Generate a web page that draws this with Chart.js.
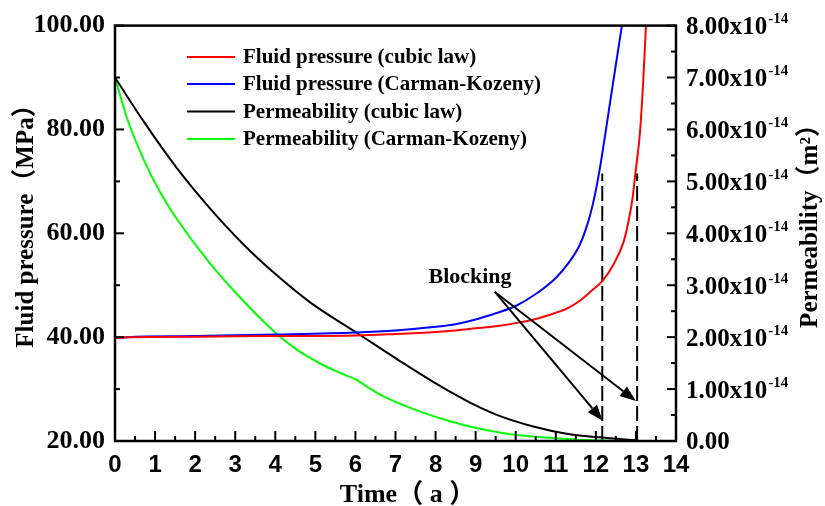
<!DOCTYPE html>
<html><head><meta charset="utf-8">
<script src="https://cdn.jsdelivr.net/npm/chart.js@4/dist/chart.umd.min.js"></script>
<style>html,body{margin:0;padding:0;background:#fff}</style>
</head><body>
<canvas id="c" width="825" height="506"></canvas>
<script>
// ---- data (time in years, pressure in MPa, permeability in 1e-14 m^2) ----
const timeTicks = [0,1,2,3,4,5,6,7,8,9,10,11,12,13,14];
const pressureTicks = [20,40,60,80,100];
const permTicks = [0,1,2,3,4,5,6,7,8];

const tRedP = [0,0.3,2,4,6,7,8,8.5,9,9.5,10,10.5,11,11.3,11.6,11.9,12.16,12.44,12.69,12.82,12.92,12.98,13.1,13.18,13.25];
const redP  = [39.8,40.0,40.1,40.2,40.3,40.6,41.0,41.3,41.7,42.1,42.7,43.5,44.7,45.6,47.0,49.0,50.8,54.0,58.3,62.5,67.0,71.1,79.4,89.0,100];

const tBlueP = [0,0.3,2,4,6,7,8,8.5,9,9.5,10,10.5,11,11.3,11.6,11.8,11.9,12.0,12.1,12.2,12.4,12.65];
const blueP  = [39.8,40.0,40.2,40.5,40.9,41.3,42.0,42.5,43.4,44.6,46.0,48.3,51.4,54.1,57.8,62.0,64.8,68.3,72.5,77.3,87.5,100];

const tBlackK = [0,0.71,1.54,2.37,3.2,4.04,4.87,6.06,7.11,8.11,8.86,9.61,10.44,11.27,12.1,13.03];
const blackK  = [7.0,6.16,5.26,4.48,3.79,3.19,2.67,2.07,1.54,1.06,0.74,0.48,0.28,0.14,0.07,0.01];

const tGreenK = [0,0.29,0.71,1.12,1.54,2.37,3.2,4.04,4.5,4.87,5.3,5.62,6.04,6.3,6.7,7.53,8.36,9.19,10.02,11.27,12.1,13.1];
const greenK  = [7.0,6.24,5.43,4.80,4.28,3.42,2.70,2.06,1.78,1.60,1.42,1.31,1.17,1.04,0.86,0.59,0.38,0.22,0.115,0.04,0.01,0.0];

const seriesLabels = ['Fluid pressure (cubic law)','Fluid pressure (Carman-Kozeny)','Permeability (cubic law)','Permeability (Carman-Kozeny)'];

const blockTimes = [12.16, 13.03];
const blockTop = 71.5;
const blockLabel = 'Blocking';
const blockLabelAt = {t: 8.86, p: 50.5};
const arrowTail = {t: 9.48, p: 48.7};
const arrowTips = [{t: 12.17, p: 23.9}, {t: 13.0, p: 27.7}];

const xTitle = 'Time（ a ）';
const yTitle = 'Fluid pressure（MPa）';
const y2Title = 'Permeability（m²）';

// ---- build ----
const pts = (ts, vs) => ts.map((t,i)=>({x:t, y:vs[i]}));
const SERIF = "'Liberation Serif','Times New Roman','Noto Sans CJK SC',serif";
const SANS = "'Liberation Sans',Arial,sans-serif";

const line = (label, data, color, axis) => ({
  label, data, borderColor: color, backgroundColor: color, borderWidth: 2,
  pointRadius: 0, fill: false, cubicInterpolationMode: 'monotone', yAxisID: axis
});

const datasets = [
  line(seriesLabels[0], pts(tRedP, redP), '#ff0000', 'y'),
  line(seriesLabels[1], pts(tBlueP, blueP), '#0000ff', 'y'),
  line(seriesLabels[2], pts(tBlackK, blackK), '#000000', 'y2'),
  line(seriesLabels[3], pts(tGreenK, greenK), '#00ff00', 'y2'),
  ...blockTimes.map(t => ({label:'', data:[{x:t,y:20},{x:t,y:blockTop}], borderColor:'#000', borderWidth:2,
      borderDash:[15,5], pointRadius:0, yAxisID:'y', isGuide:true}))
];

const decor = {
  id: 'decor',
  afterDatasetsDraw(chart) {
    const {ctx, chartArea: a, scales: {x, y, y2}} = chart;
    const seg = (x1,y1,x2,y2_) => { ctx.beginPath(); ctx.moveTo(x1,y1); ctx.lineTo(x2,y2_); ctx.stroke(); };
    ctx.save();
    ctx.strokeStyle = '#000'; ctx.fillStyle = '#000';

    // arrows
    ctx.lineWidth = 2;
    const tx = x.getPixelForValue(arrowTail.t), ty = y.getPixelForValue(arrowTail.p);
    arrowTips.forEach(tp => {
      const hx = x.getPixelForValue(tp.t), hy = y.getPixelForValue(tp.p);
      const ang = Math.atan2(hy-ty, hx-tx), L = 16, W = 6;
      const bx = hx - L*Math.cos(ang), by = hy - L*Math.sin(ang);
      seg(tx, ty, bx, by);
      ctx.beginPath();
      ctx.moveTo(hx, hy);
      ctx.lineTo(bx + W*Math.sin(ang), by - W*Math.cos(ang));
      ctx.lineTo(bx - W*Math.sin(ang), by + W*Math.cos(ang));
      ctx.closePath(); ctx.fill();
    });
    ctx.font = `bold 22px ${SERIF}`;
    ctx.textAlign = 'center'; ctx.textBaseline = 'alphabetic';
    ctx.fillText(blockLabel, x.getPixelForValue(blockLabelAt.t), y.getPixelForValue(blockLabelAt.p));

    // frame
    ctx.lineWidth = 2.5;
    ctx.strokeRect(a.left, a.top, a.right - a.left, a.bottom - a.top);
    ctx.lineWidth = 2;
    for (let t = 0; t <= 14; t += 0.5) {
      const px = x.getPixelForValue(t);
      seg(px, a.bottom, px, a.bottom - (Number.isInteger(t) ? 10 : 5));
    }
    for (let v = 20; v <= 100; v += 10) {
      const py = y.getPixelForValue(v);
      seg(a.left, py, a.left + (v % 20 === 0 ? 9 : 5), py);
    }
    for (let k = 0; k <= 8; k += 0.5) {
      const py = y2.getPixelForValue(k);
      seg(a.right, py, a.right - (Number.isInteger(k) ? 9 : 5), py);
    }

    // right tick labels with superscript
    ctx.textAlign = 'left'; ctx.textBaseline = 'middle';
    permTicks.forEach(k => {
      const py = y2.getPixelForValue(k) + 2;
      ctx.font = `bold 25px ${SERIF}`;
      if (k === 0) { ctx.fillText('0.00', a.right + 10, py); return; }
      const main = k.toFixed(2) + 'x10';
      ctx.fillText(main, a.right + 10, py);
      const w = ctx.measureText(main).width;
      ctx.font = `bold 15px ${SERIF}`;
      ctx.fillText('-14', a.right + 10 + w + 1, py - 8);
    });

    // axis titles
    ctx.textAlign = 'center'; ctx.textBaseline = 'middle';
    ctx.font = `bold 26px ${SERIF}`;
    ctx.fillText(xTitle, (a.left + a.right)/2 + 12, 495);
    ctx.font = `bold 25px ${SERIF}`;
    ctx.save(); ctx.translate(27, 220); ctx.rotate(-Math.PI/2); ctx.fillText(yTitle, 0, 0); ctx.restore();
    ctx.save(); ctx.translate(811, 220); ctx.rotate(-Math.PI/2); ctx.fillText(y2Title, 0, 0); ctx.restore();

    // legend
    const rows = [57, 84, 111.5, 139];
    ctx.font = `bold 21px ${SERIF}`;
    ctx.textAlign = 'left'; ctx.textBaseline = 'middle';
    chart.data.datasets.filter(d => !d.isGuide).forEach((d, i) => {
      ctx.strokeStyle = d.borderColor; ctx.lineWidth = 2;
      seg(187, rows[i], 235, rows[i]);
      ctx.fillStyle = '#000';
      ctx.fillText(d.label, 243, rows[i] + 1);
    });
    ctx.restore();
  }
};

new Chart(document.getElementById('c'), {
  type: 'line',
  data: { datasets },
  options: {
    responsive: false, animation: false, devicePixelRatio: 1,
    layout: { padding: { top: 24, left: 0, right: 0, bottom: 0 } },
    plugins: { legend: { display: false }, tooltip: { enabled: false } },
    scales: {
      x: {
        type: 'linear', min: 0, max: 14,
        afterBuildTicks: s => { s.ticks = timeTicks.map(v => ({value: v})); },
        ticks: { font: { family: SANS, weight: 'bold', size: 24 }, color: '#000', padding: 10, maxRotation: 0, autoSkip: false },
        grid: { display: false, drawTicks: false }, border: { display: false },
        afterFit: s => { s.height = 65; }
      },
      y: {
        position: 'left', min: 20, max: 100,
        afterBuildTicks: s => { s.ticks = pressureTicks.map(v => ({value: v})); },
        ticks: { callback: v => Number(v).toFixed(2), font: { family: SERIF, weight: 'bold', size: 26 }, color: '#000', padding: 10 },
        grid: { display: false, drawTicks: false }, border: { display: false },
        afterFit: s => { s.width = 115; }
      },
      y2: {
        position: 'right', min: 0, max: 8,
        afterBuildTicks: s => { s.ticks = permTicks.map(v => ({value: v})); },
        ticks: { display: false },
        grid: { display: false, drawTicks: false }, border: { display: false },
        afterFit: s => { s.width = 149; }
      }
    }
  },
  plugins: [decor]
});
</script>
</body></html>
